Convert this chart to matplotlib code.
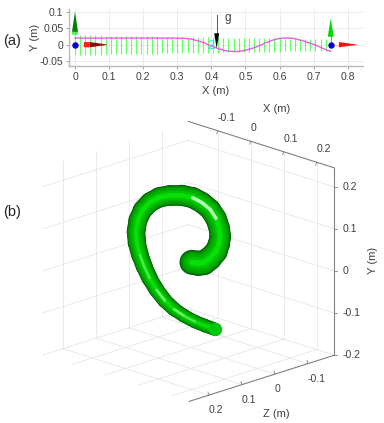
#!/usr/bin/env python3
import matplotlib
matplotlib.use("Agg")
import matplotlib.pyplot as plt
from matplotlib.collections import LineCollection
from matplotlib.patches import FancyArrow
import numpy as np

plt.rcParams['font.family'] = ['Liberation Sans', 'DejaVu Sans']

# panel (a): rod centre line, metres
rod2d_x = [0, .05, .1, .15, .2, .25, .3, .32, .34, .36, .38, .40, .42, .44, .46, .48, .50, .52, .54, .56,
           .58, .60, .62, .64, .66, .68, .70, .72, .74, .75]
rod2d_y = [.02, .02, .02, .02, .02, .02, .02, .0195, .017, .012, .005, -.004, -.012, -.018, -.0205, -.0205,
           -.017, -.011, -.003, .006, .014, .019, .0205, .019, .014, .008, .001, -.008, -.017, -.02]
# green cross-section bars
bar_x = [0, .015, .03, .045, .06, .075, .09, .105, .12, .135, .15, .165, .18, .195, .21, .225, .24, .255, .27,
         .285, .3, .315, .33, .345, .36, .375, .39, .405, .42, .435, .45, .465, .48, .495, .51, .525, .54, .555,
         .57, .585, .6, .615, .63, .645, .66, .675, .69, .705, .72, .735]
bar_top = [.029, .029, .028, .028, .028, .028, .027, .027, .027, .027, .026, .026, .026, .026, .025, .025, .025,
           .024, .024, .024, .024, .023, .023, .023, .023, .022, .022, .022, .022, .021, .021, .021, .021, .020,
           .020, .020, .020, .019, .019, .019, .019, .018, .018, .018, .018, .017, .017, .017, .016, .016]
bar_bot = [-.031, -.031, -.030, -.030, -.030, -.030, -.029, -.029, -.029, -.029, -.028, -.028, -.028, -.028,
           -.027, -.027, -.027, -.026, -.026, -.026, -.026, -.025, -.025, -.025, -.025, -.024, -.024, -.024,
           -.024, -.023, -.023, -.023, -.023, -.022, -.022, -.022, -.022, -.021, -.021, -.021, -.021, -.020,
           -.020, -.020, -.020, -.019, -.019, -.019, -.018, -.018]
xticks_a = [0, .1, .2, .3, .4, .5, .6, .7, .8]
yticks_a = [-.05, 0, .05, .1]

# panel (b): deformed rod, metres
rod_x = [.0010, .0106, .0192, .0283, .0374, .0419, .0439, .0424, .0374, .0283, .0162, .0020, -.0146, -.0323, -.0485,
         -.0626, -.0737, -.0808, -.0838, -.0823, -.0778, -.0712, -.0631, -.0525, -.0399, -.0258, -.0106, .0056,
         .0207, .0359]
rod_y = [.0024, 0, .0016, .0119, .0277, .0459, .0633, .0831, .1069, .1283, .1441, .1560, .1615, .1615, .1568,
         .1449, .1267, .1029, .0752, .0475, .0198, -.0079, -.0356, -.0633, -.0887, -.1093, -.1251, -.1386,
         -.1481, -.1568]
rod_z = [-.0010, -.0106, -.0192, -.0283, -.0374, -.0419, -.0439, -.0424, -.0374, -.0283, -.0162, -.0020, .0146, .0323,
         .0485, .0626, .0737, .0808, .0838, .0823, .0778, .0712, .0631, .0525, .0399, .0258, .0106, -.0056,
         -.0207, -.0359]
rod_r = [.0293, .0300, .0293, .0285, .0269, .0261, .0253, .0253, .0253, .0253, .0253, .0253, .0245, .0245, .0238,
         .0238, .023, .0222, .0222, .0214, .0206, .0198, .019, .0182, .0174, .0166, .0158, .0158, .0158, .0158]
xlim3 = (-.189, .2535)
ylim3 = (-.2, .245)
zlim3 = (-.18, .26)
xticks3 = [-.1, 0, .1, .2]
yticks3 = [-.2, -.1, 0, .1, .2]
zticks3 = [-.1, 0, .1, .2]
xlabels3 = ["-0.1", "0", "0.1", "0.2"]
ylabels3 = ["-0.2", "-0.1", "0", "0.1", "0.2"]
zlabels3 = ["-0.1", "0", "0.1", "0.2"]


def proj(x, y, z):
    # fixed orthographic view, gives picture pixels
    x, y, z = np.asarray(x, float), np.asarray(y, float), np.asarray(z, float)
    return 191.3 + 330 * (x - z), 263.3 + 105 * (x + z) - 421 * y


W, H = 384, 423
fig = plt.figure(figsize=(W / 100, H / 100), dpi=100)
txt = (.25, .25, .25)

# ---- panel (a)
ax = fig.add_axes([69 / W, 1 - 66 / H, 293.7 / W, 57 / H])
ax.set_xlim(-.0176, .8437)
ax.set_ylim(-.0645, .108)
ax.set_xticks(xticks_a)
ax.set_xticklabels(["0", "0.1", "0.2", "0.3", "0.4", "0.5", "0.6", "0.7", "0.8"])
ax.set_yticks(yticks_a)
ax.set_yticklabels(["-0.05", "0", "0.05", "0.1"])
ax.grid(True, color=(.92, .92, .92), lw=.7)
ax.set_axisbelow(True)
for s in ("top", "right"):
    ax.spines[s].set_visible(False)
for s in ("left", "bottom"):
    ax.spines[s].set_color((.72, .72, .72))
    ax.spines[s].set_linewidth(1.0)
ax.tick_params(labelsize=7.6, colors=txt, length=2, width=.6, pad=2, color=(.6, .6, .6))
ax.set_xlabel("X (m)", fontsize=8, color=txt, labelpad=3.5)
ax.set_ylabel("Y (m)", fontsize=8, color=txt, labelpad=-.5)

ax.vlines(bar_x, bar_bot, bar_top, color=(.38, 1, .38), lw=.85, zorder=2)
ax.plot(rod2d_x, rod2d_y, color=(.93, .35, .9), lw=1.0, zorder=3)
# end frames
ax.plot([0, .1], [0, 0], color=(.95, .75, .75), lw=.7, zorder=3)
ax.plot([.75, .83], [0, 0], color=(.98, .8, .8), lw=.7, zorder=3)
ax.plot([.75, .75], [0, .03], color=(.2, .85, .2), lw=.8, zorder=3)
ax.add_patch(FancyArrow(0, .03, 0, .01, width=.017, head_width=.017, head_length=.001,
                        length_includes_head=True, color=(.3, .95, .3), lw=0, zorder=4))
ax.add_patch(FancyArrow(0, .039, 0, .061, width=.001, head_width=.0176, head_length=.061,
                        length_includes_head=True, color=(0, .5, 0), lw=0, zorder=4))
ax.add_patch(FancyArrow(.75, .024, 0, .056, width=.001, head_width=.0176, head_length=.056,
                        length_includes_head=True, color=(0, .85, 0), lw=0, zorder=4))
ax.add_patch(FancyArrow(.026, 0, .018, 0, width=.016, head_width=.016, head_length=.001,
                        length_includes_head=True, color=(.95, .15, .05), lw=0, zorder=4))
ax.add_patch(FancyArrow(.044, 0, .053, 0, width=.001, head_width=.016, head_length=.053,
                        length_includes_head=True, color=(.55, .05, .02), lw=0, zorder=4))
ax.add_patch(FancyArrow(.774, 0, .055, 0, width=.001, head_width=.016, head_length=.055,
                        length_includes_head=True, color=(1, .05, .05), lw=0, zorder=4))
ax.plot([0, .75], [0, 0], ls="none", marker="o", ms=4.6, color=(0, 0, .85), mew=0, zorder=5)
# gravity arrow
ax.plot([.4155, .4155], [.09, .03], color=(.35, .35, .35), lw=.7, zorder=5)
ax.add_patch(FancyArrow(.4155, .0345, 0, -.0455, width=.001, head_width=.0147, head_length=.0455,
                        length_includes_head=True, color="k", lw=0, zorder=5))
ax.text(.448, .082, "g", fontsize=8.5, color=txt, ha="center", va="center", zorder=6)
ax.text(.398, -.003, "2", fontsize=9.5, color=(.2, .88, .92), ha="center", va="center", zorder=6)

# ---- panel (b), drawn in picture pixels through proj()
bx = fig.add_axes([0, 0, 1, 1], facecolor="none")
bx.set_xlim(0, W)
bx.set_ylim(H, 0)
bx.axis("off")

gc = (.9, .9, .9)
for t in zticks3:  # wall at xmin and floor
    u, v = proj([xlim3[0], xlim3[0]], ylim3, [t, t])
    bx.plot(u, v, color=gc, lw=.6, zorder=1)
    u, v = proj(xlim3, [ylim3[0]] * 2, [t, t])
    bx.plot(u, v, color=gc, lw=.6, zorder=1)
for t in xticks3:  # wall at zmin and floor
    u, v = proj([t, t], ylim3, [zlim3[0]] * 2)
    bx.plot(u, v, color=gc, lw=.6, zorder=1)
    u, v = proj([t, t], [ylim3[0]] * 2, zlim3)
    bx.plot(u, v, color=gc, lw=.6, zorder=1)
for t in yticks3:
    u, v = proj([xlim3[0], xlim3[0]], [t, t], zlim3)
    bx.plot(u, v, color=gc, lw=.6, zorder=1)
    u, v = proj(xlim3, [t, t], [zlim3[0]] * 2)
    bx.plot(u, v, color=gc, lw=.6, zorder=1)

ac = (.5, .5, .5)
for p, q in (((xlim3[0], ylim3[1], zlim3[0]), (xlim3[1], ylim3[1], zlim3[0])),
             ((xlim3[1], ylim3[0], zlim3[0]), (xlim3[1], ylim3[1], zlim3[0])),
             ((xlim3[1], ylim3[0], zlim3[0]), (xlim3[1], ylim3[0], zlim3[1]))):
    u, v = proj(*zip(p, q))
    bx.plot(u, v, color=ac, lw=.8, zorder=2)

fs = 7.6
for t, s in zip(xticks3, xlabels3):
    u, v = proj(t, ylim3[1], zlim3[0])
    bx.plot([u, u - 1], [v, v + 3], color=ac, lw=.6, zorder=2)
    bx.text(u, v - 13, s, fontsize=fs, color=txt, ha="left", va="center")
for t, s in zip(yticks3, ylabels3):
    u, v = proj(xlim3[1], t, zlim3[0])
    bx.plot([u, u + 3], [v, v], color=ac, lw=.6, zorder=2)
    bx.text(u + 8, v, s, fontsize=fs, color=txt, ha="left", va="center")
for t, s in zip(zticks3, zlabels3):
    u, v = proj(xlim3[1], ylim3[0], t)
    bx.plot([u, u - 1], [v, v - 3], color=ac, lw=.6, zorder=2)
    bx.text(u, v + 15, s, fontsize=fs, color=txt, ha="left", va="center")
bx.text(276.7, 109.3, "X (m)", fontsize=8, color=txt, ha="center", va="center")
bx.text(372.7, 260, "Y (m)", fontsize=8, color=txt, ha="center", va="center", rotation=90)
bx.text(276, 414, "Z (m)", fontsize=8, color=txt, ha="center", va="center")
bx.text(12, 41, "(a)", fontsize=10.5, color=(.15, .15, .15), ha="center", va="center")
bx.text(12, 212, "(b)", fontsize=10.5, color=(.15, .15, .15), ha="center", va="center")

# tube: nested strokes, dark rim to light core
u, v = proj(rod_x, rod_y, rod_z)
pts = np.column_stack([u, v])
segs = np.stack([pts[:-1], pts[1:]], axis=1)
rad_px = 421 * np.array(rod_r)
wid_pt = 2 * .5 * (rad_px[:-1] + rad_px[1:]) * 72 / 100
layers = [(1.0, (0, .33, 0)), (.94, (0, .48, 0)), (.84, (0, .6, 0)), (.66, (0, .68, 0)),
          (.44, (0, .77, 0)), (.22, (.03, .87, .03))]
for k, (f, c) in enumerate(layers):
    bx.add_collection(LineCollection(segs, linewidths=wid_pt * f, colors=[c], capstyle="round",
                                     joinstyle="round", zorder=5 + k * .1))
# specular streaks
for i0, i1, lw_s, col in ((8, 11, 2.4, (.72, 1, .72)), (20, 22, 1.6, (.3, .92, .3)), (23, 24, 1.8, (.42, .97, .42)),
                          (25, 26, 1.8, (.42, .97, .42)), (26, 27, 1.6, (.3, .92, .3))):
    bx.add_collection(LineCollection(segs[i0:i1], linewidths=lw_s, colors=[col], capstyle="round", zorder=6))
# free end cap
bx.plot(u[-1], v[-1], marker="o", ms=rad_px[-1] * 2 * .72, color=(0, .78, .05), mew=0, zorder=7)

fig.savefig("out.png", dpi=100)
